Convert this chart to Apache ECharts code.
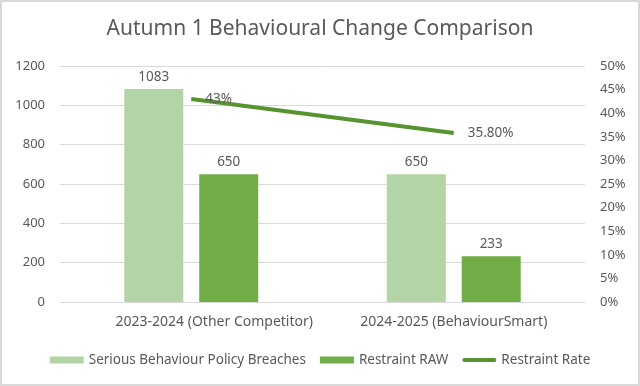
<!DOCTYPE html>
<html><head><meta charset="utf-8">
<script src="https://cdn.jsdelivr.net/npm/echarts@6/dist/echarts.min.js"></script>
<style>html,body{margin:0;padding:0;background:#fff}#c{width:640px;height:386px}</style>
</head><body><div id="c"></div>
<script>
var categories = ['2023-2024 (Other Competitor)', '2024-2025 (BehaviourSmart)'];
var seriousBreaches = [1083, 650];
var restraintRaw = [650, 233];
var restraintRate = [0.43, 0.358];
var rateLabels = ['43%', '35.80%'];

var chart = echarts.init(document.getElementById('c'));
var font = 'Noto Sans';
chart.setOption({
  animation: false,
  backgroundColor: '#fff',
  textStyle: {fontFamily: font},
  title: {
    text: 'Autumn 1 Behavioural Change Comparison',
    left: 'center', top: 14,
    textStyle: {fontFamily: font, fontSize: 21, fontWeight: 'normal', color: '#595959'}
  },
  graphic: [{type: 'rect', shape: {x: 1, y: 1, width: 638, height: 384}, style: {fill: 'none', stroke: '#d9d9d9', lineWidth: 2}, silent: true}],
  legend: {
    bottom: 14, left: 'center', itemGap: 14,
    itemWidth: 34, itemHeight: 7,
    textStyle: {fontFamily: font, fontSize: 13.5, color: '#595959'},
    data: [
      {name: 'Serious Behaviour Policy Breaches', icon: 'rect'},
      {name: 'Restraint RAW', icon: 'rect'},
      {name: 'Restraint Rate', icon: 'path://M2,0 L32,0 A2,2 0 0 1 32,4 L2,4 A2,2 0 0 1 2,0 Z', itemStyle: {color: '#57932f'}}
    ]
  },
  grid: {left: 60, right: 55, top: 66, bottom: 84},
  xAxis: {
    type: 'category',
    data: [
      {value: categories[0], textStyle: {padding: [0, 0, 0, 46]}},
      {value: categories[1]}
    ],
    axisLine: {lineStyle: {color: '#d9d9d9', width: 1}},
    axisTick: {show: false},
    axisLabel: {fontFamily: font, fontSize: 14, color: '#595959', margin: 13}
  },
  yAxis: [{
    type: 'value', min: 0, max: 1200, interval: 200,
    axisLine: {show: false}, axisTick: {show: false},
    splitLine: {lineStyle: {color: '#d9d9d9'}},
    axisLabel: {fontFamily: font, fontSize: 13, color: '#595959', margin: 15,
      formatter: function (v) { return String(v); }}
  }, {
    type: 'value', min: 0, max: 0.5, interval: 0.05,
    axisLine: {show: false}, axisTick: {show: false}, splitLine: {show: false},
    axisLabel: {fontFamily: font, fontSize: 13, color: '#595959', margin: 15,
      formatter: function (v) { return Math.round(v * 100) + '%'; }}
  }],
  series: [{
    name: 'Serious Behaviour Policy Breaches', type: 'bar', data: seriousBreaches,
    barWidth: 59, barGap: '27%',
    itemStyle: {color: '#b3d4a5'},
    label: {show: true, position: 'top', distance: 5, fontFamily: font, fontSize: 13.5, color: '#595959'}
  }, {
    name: 'Restraint RAW', type: 'bar', data: restraintRaw,
    barWidth: 59,
    itemStyle: {color: '#70ad47'},
    label: {show: true, position: 'top', distance: 5, fontFamily: font, fontSize: 13.5, color: '#595959'}
  }, {
    name: 'Restraint Rate', type: 'line', yAxisIndex: 1, data: restraintRate,
    symbol: 'circle', symbolSize: 0, showSymbol: true,
    lineStyle: {color: '#57932f', width: 4},
    itemStyle: {color: '#57932f'},
    label: {show: true, position: 'right', distance: 14, fontFamily: font, fontSize: 13.5, color: '#595959',
      formatter: function (p) { return rateLabels[p.dataIndex]; }}
  }]
});
</script></body></html>
